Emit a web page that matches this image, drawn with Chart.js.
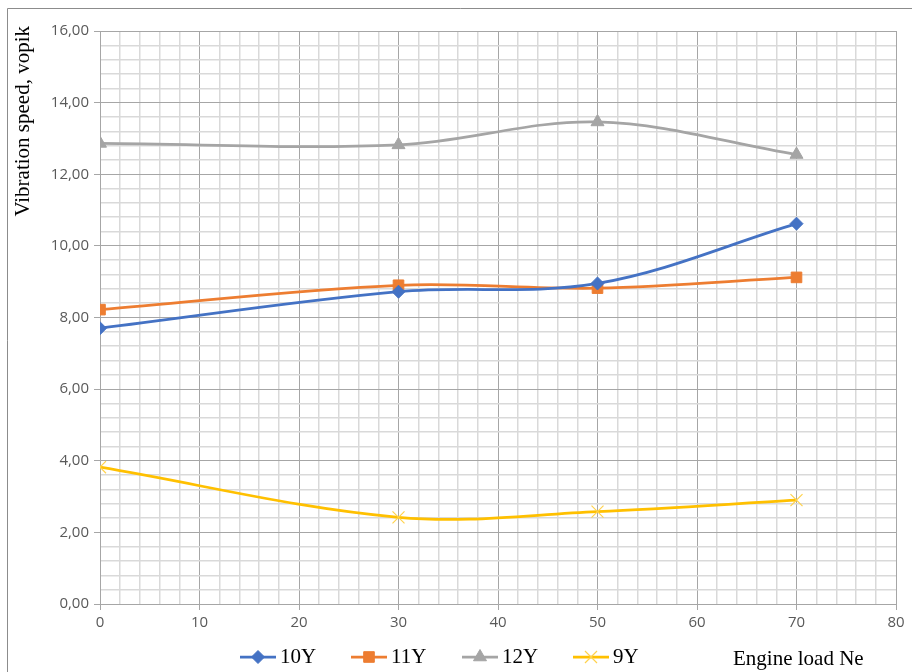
<!DOCTYPE html>
<html>
<head>
<meta charset="utf-8">
<script src="https://cdn.jsdelivr.net/npm/chart.js@4/dist/chart.umd.min.js"></script>
<style>
html,body{margin:0;padding:0;background:#fff;}
#wrap{width:912px;height:672px;position:relative;}
</style>
</head>
<body>
<div id="wrap"><canvas id="c" width="912" height="672"></canvas></div>
<script>
// ---- data ----
const xLoads = [0, 30, 50, 70];
const seriesNames = ['10Y', '11Y', '12Y', '9Y'];
const s10Y = [7.70, 8.72, 8.95, 10.62];
const s11Y = [8.22, 8.90, 8.82, 9.12];
const s12Y = [12.86, 12.82, 13.46, 12.55];
const s9Y  = [3.82, 2.42, 2.58, 2.90];
const xTitle = 'Engine load Ne';
const yTitle = 'Vibration speed, vopik';

const colors = ['#4472C4', '#ED7D31', '#A5A5A5', '#FFC000'];
const styles = ['rectRot', 'rect', 'triangle', 'crossRot'];
const radii = [6.5, 7.5, 7.5, 8.5];
const allSeries = [s10Y, s11Y, s12Y, s9Y];

const datasets = allSeries.map((vals, i) => ({
  label: seriesNames[i],
  data: xLoads.map((x, j) => ({x: x, y: vals[j]})),
  borderColor: colors[i],
  backgroundColor: colors[i],
  borderWidth: 2.75,
  pointStyle: styles[i],
  pointRadius: radii[i],
  pointBorderWidth: i === 3 ? 1.2 : 1,
  pointBorderColor: i === 3 ? '#FFD24D' : colors[i],
  tension: 0.35,
  fill: false
}));

const isMult = (v, m) => Math.abs(v / m - Math.round(v / m)) < 1e-6;

const decor = {
  id: 'decor',
  beforeDraw(chart) {
    const ctx = chart.ctx;
    ctx.save();
    ctx.fillStyle = '#fff';
    ctx.fillRect(0, 0, chart.width, chart.height);
    ctx.strokeStyle = '#8C8C8C';
    ctx.lineWidth = 1;
    ctx.beginPath();
    ctx.moveTo(7.5, 700); ctx.lineTo(7.5, 8.5); ctx.lineTo(920, 8.5);
    ctx.stroke();
    ctx.restore();
  },
  afterDraw(chart) {
    const ctx = chart.ctx;
    ctx.save();
    // y title
    ctx.fillStyle = '#000';
    ctx.font = '21px "Liberation Serif", serif';
    ctx.translate(23, 26);
    ctx.rotate(-Math.PI / 2);
    ctx.textAlign = 'right';
    ctx.textBaseline = 'middle';
    ctx.fillText(yTitle, 0, 0);
    ctx.restore();

    ctx.save();
    ctx.fillStyle = '#000';
    ctx.font = '21px "Liberation Serif", serif';
    ctx.textAlign = 'left';
    ctx.textBaseline = 'middle';
    ctx.fillText(xTitle, 733, 659);

    // legend
    const y = 657;
    chart.data.datasets.forEach((ds, i) => {
      const x = 240 + i * 111;
      ctx.strokeStyle = ds.borderColor;
      ctx.lineWidth = 2.75;
      ctx.beginPath();
      ctx.moveTo(x, y); ctx.lineTo(x + 36, y);
      ctx.stroke();
      ctx.fillStyle = ds.backgroundColor;
      ctx.strokeStyle = ds.pointBorderColor;
      ctx.lineWidth = ds.pointBorderWidth;
      Chart.helpers.drawPoint(ctx, {pointStyle: ds.pointStyle, radius: ds.pointRadius, rotation: 0, borderWidth: ds.pointBorderWidth}, x + 18, y);
      ctx.fillStyle = '#000';
      ctx.fillText(ds.label, x + 40, y);
    });
    ctx.restore();
  }
};

new Chart(document.getElementById('c'), {
  type: 'line',
  data: { datasets },
  options: {
    responsive: false,
    animation: false,
    devicePixelRatio: 1,
    layout: { padding: { left: 0, right: 16, top: 31, bottom: 0 } },
    plugins: { legend: { display: false }, tooltip: { enabled: false } },
    scales: {
      x: {
        type: 'linear',
        min: 0, max: 80,
        afterFit(s) { s.height = 68; },
        ticks: {
          stepSize: 2,
          autoSkip: false,
          maxRotation: 0,
          padding: 4,
          color: '#595959',
          font: { family: '"Open Sans", sans-serif', size: 15 },
          callback: v => isMult(v, 10) ? String(v) : ''
        },
        grid: {
          color: c => isMult(c.tick.value, 10) ? '#A6A6A6' : '#D9D9D9',
          lineWidth: c => isMult(c.tick.value, 10) ? 1 : 1.5,
          tickColor: c => isMult(c.tick.value, 10) ? '#A6A6A6' : 'rgba(0,0,0,0)',
          tickLength: 6
        },
        border: { color: '#A6A6A6', width: 1 }
      },
      y: {
        min: 0, max: 16,
        afterFit(s) { s.width = 100; },
        ticks: {
          stepSize: 0.4,
          autoSkip: false,
          padding: 5,
          color: '#595959',
          font: { family: '"Open Sans", sans-serif', size: 15 },
          callback: v => isMult(v, 2) ? v.toFixed(2).replace('.', ',') : ''
        },
        grid: {
          color: c => isMult(c.tick.value, 2) ? '#A6A6A6' : '#D9D9D9',
          lineWidth: c => isMult(c.tick.value, 2) ? 1 : 1.5,
          tickColor: c => isMult(c.tick.value, 2) ? '#A6A6A6' : 'rgba(0,0,0,0)',
          tickLength: 6
        },
        border: { color: '#A6A6A6', width: 1 }
      }
    }
  },
  plugins: [decor]
});
</script>
</body>
</html>
